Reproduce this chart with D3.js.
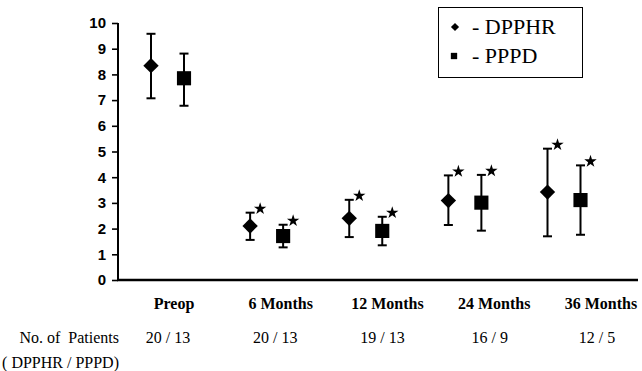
<!DOCTYPE html>
<html><head><meta charset="utf-8">
<script src="https://cdn.jsdelivr.net/npm/d3@7"></script>
<style>
html,body{margin:0;padding:0;background:#fff;}
svg{display:block;}
.serif{font-family:"Liberation Serif","Times New Roman","DejaVu Serif",serif;}
.sans{font-family:"Liberation Sans",Arial,sans-serif;}
.bold{font-weight:700;}
</style></head>
<body>
<svg id="c" width="642" height="371"></svg>
<script>
const categories = ["Preop", "6 Months", "12 Months", "24 Months", "36 Months"];
const dpphrMean = [8.34, 2.10, 2.40, 3.09, 3.42];
const dpphrHigh = [9.58, 2.62, 3.12, 4.07, 5.11];
const dpphrLow  = [7.07, 1.56, 1.67, 2.14, 1.70];
const pppdMean  = [7.85, 1.71, 1.91, 3.01, 3.11];
const pppdHigh  = [8.81, 2.15, 2.46, 4.09, 4.46];
const pppdLow   = [6.78, 1.27, 1.35, 1.92, 1.76];
const dpphrSig  = [false, true, true, true, true];
const pppdSig   = [false, true, true, true, true];
const patients  = ["20 / 13", "20 / 13", "19 / 13", "16 / 9", "12 / 5"];
const yTicks    = [0,1,2,3,4,5,6,7,8,9,10];
const seriesNames = ["DPPHR", "PPPD"];

const svg = d3.select("#c");
const y = d3.scaleLinear().domain([0, 10]).range([280, 23]);
const x = d3.scalePoint().domain(categories).range([167.5, 564]);
const xLab = d3.scalePoint().domain(categories).range([174, 601]);
const xPat = d3.scalePoint().domain(categories).range([168, 597]);
const off = 16.5;

// axes
const yAxis = d3.axisLeft(y).tickValues(yTicks).tickSize(6).tickPadding(6).tickFormat(d3.format("d"));
const gy = svg.append("g").attr("transform", "translate(118,0)").call(yAxis);
gy.attr("font-family", null).attr("font-size", null);
gy.select(".domain").attr("stroke", "#000").attr("stroke-width", 2).attr("d", `M0,${y(10)}V${y(0)}`);
gy.selectAll(".tick line").attr("stroke", "#000").attr("stroke-width", 1.6);
gy.selectAll(".tick text").attr("fill", "#000").attr("class", "sans bold").style("font-size", "15px");

svg.append("line").attr("x1", 117).attr("x2", 638).attr("y1", y(0)).attr("y2", y(0))
  .attr("stroke", "#000").attr("stroke-width", 2.4);

const series = [
  {name: seriesNames[0], mean: dpphrMean, hi: dpphrHigh, lo: dpphrLow, sig: dpphrSig, dx: -off, shape: "diamond"},
  {name: seriesNames[1], mean: pppdMean, hi: pppdHigh, lo: pppdLow, sig: pppdSig, dx: off, shape: "square"}
];

const diamondPath = d3.symbol(d3.symbolSquare, 118)();
const squarePath = d3.symbol(d3.symbolSquare, 200)();
const starPath = d3.symbol(d3.symbolStar, 48)();

series.forEach(s => {
  const g = svg.append("g");
  categories.forEach((c, i) => {
    const cx = x(c) + s.dx;
    g.append("line").attr("x1", cx).attr("x2", cx).attr("y1", y(s.hi[i])).attr("y2", y(s.lo[i]))
      .attr("stroke", "#000").attr("stroke-width", 2);
    [s.hi[i], s.lo[i]].forEach(v => {
      g.append("line").attr("x1", cx - 4.5).attr("x2", cx + 4.5).attr("y1", y(v)).attr("y2", y(v))
        .attr("stroke", "#000").attr("stroke-width", 2);
    });
    if (s.shape === "diamond") {
      g.append("path").attr("d", diamondPath).attr("fill", "#000")
        .attr("transform", `translate(${cx},${y(s.mean[i])}) rotate(45)`);
    } else {
      g.append("path").attr("d", squarePath).attr("fill", "#000")
        .attr("transform", `translate(${cx},${y(s.mean[i])})`);
    }
    if (s.sig[i]) {
      g.append("path").attr("d", starPath).attr("fill", "#000")
        .attr("transform", `translate(${cx + 10},${y(s.hi[i]) - 4})`);
    }
  });
});

// category labels
svg.append("g").selectAll("text").data(categories).join("text")
  .attr("class", "serif bold").style("font-size", "16px")
  .attr("x", d => xLab(d)).attr("y", 309).attr("text-anchor", "middle").text(d => d);

// patients row
svg.append("g").selectAll("text").data(patients).join("text")
  .attr("class", "serif").style("font-size", "16px").style("white-space", "pre")
  .attr("x", (d, i) => xPat(categories[i])).attr("y", 343).attr("text-anchor", "middle").text(d => d);
svg.append("text").attr("class", "serif").style("font-size", "16px").style("white-space", "pre")
  .attr("x", 119).attr("y", 343).attr("text-anchor", "end").text("No. of  Patients");
svg.append("text").attr("class", "serif").style("font-size", "16px")
  .attr("x", 119).attr("y", 368).attr("text-anchor", "end").text("( DPPHR / PPPD)");

// legend
const lg = svg.append("g");
lg.append("rect").attr("x", 438.5).attr("y", 7.5).attr("width", 144).attr("height", 70)
  .attr("fill", "#fff").attr("stroke", "#000").attr("stroke-width", 1);
lg.append("path").attr("d", d3.symbol(d3.symbolSquare, 34)()).attr("fill", "#000")
  .attr("transform", "translate(455,27) rotate(45)");
lg.append("path").attr("d", d3.symbol(d3.symbolSquare, 40)()).attr("fill", "#000")
  .attr("transform", "translate(454,56)");
lg.selectAll("text.lt").data(seriesNames).join("text")
  .attr("class", "lt serif").style("font-size", "22px")
  .attr("x", 472).attr("y", (d, i) => 34 + i * 29)
  .text(d => "- " + d);
</script>
</body></html>
